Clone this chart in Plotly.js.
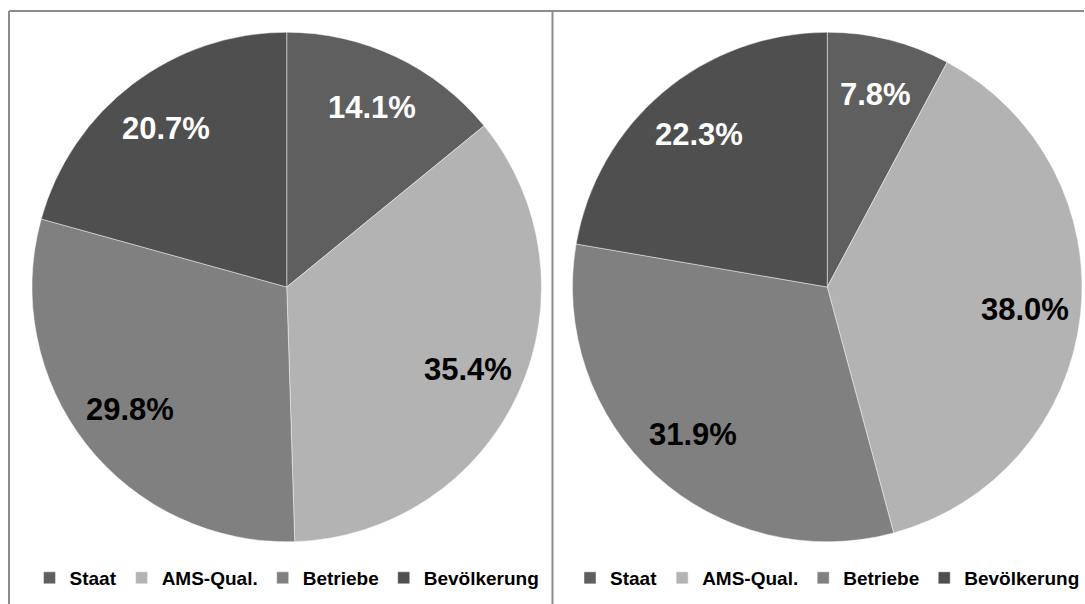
<!DOCTYPE html>
<html>
<head>
<meta charset="utf-8">
<script src="https://cdn.plot.ly/plotly-3.0.1.min.js"></script>
<style>html,body{margin:0;padding:0;background:#fff;}#chart{width:1085px;height:604px;}</style>
</head>
<body>
<div id="chart"></div>
<script>
const categories = ['Staat', 'AMS-Qual.', 'Betriebe', 'Bevölkerung'];
const valuesLeft = [14.1, 35.4, 29.8, 20.7];
const valuesRight = [7.8, 38.0, 31.9, 22.3];
const sliceColors = ['#5f5f5f', '#b3b3b3', '#808080', '#4f4f4f'];
const labelColors = ['#ffffff', '#000000', '#000000', '#ffffff'];

const W = 1085, H = 604;
const R = 255;
const centers = [[287, 287], [828, 287]];
const FONT = 'Liberation Sans, Arial, sans-serif';

function domainFor(c) {
  return {
    x: [(c[0] - R) / W, (c[0] + R) / W],
    y: [1 - (c[1] + R) / H, 1 - (c[1] - R) / H]
  };
}

// the second pie gets invisibly-distinct labels so its legend items are not merged with the first
function pieTrace(values, c, legendId, suffix) {
  return {
    type: 'pie',
    labels: categories.map(s => s + suffix),
    values: values,
    sort: false,
    direction: 'clockwise',
    rotation: 0,
    textinfo: 'none',
    hoverinfo: 'label+percent',
    marker: { colors: sliceColors, line: { color: 'rgba(255,255,255,0.45)', width: 1 } },
    domain: domainFor(c),
    legend: legendId,
    showlegend: true
  };
}

function labelAnnotations(values, c) {
  const total = values.reduce((a, b) => a + b, 0);
  let cum = 0;
  return values.map((v, i) => {
    const mid = (cum + v / 2) / total * 2 * Math.PI;
    cum += v;
    const rr = R * 0.78;
    const px = c[0] + rr * Math.sin(mid);
    const py = c[1] - rr * Math.cos(mid);
    return {
      xref: 'paper', yref: 'paper',
      x: px / W, y: 1 - py / H,
      xanchor: 'center', yanchor: 'middle',
      showarrow: false,
      text: v.toFixed(1) + '%',
      font: { family: FONT, size: 31, color: labelColors[i], weight: 'bold' }
    };
  });
}

const borderColor = '#8c8c8c';
const shapes = [
  { type: 'line', xref: 'paper', yref: 'paper', x0: 9 / W, x1: 1, y0: 1 - 11 / H, y1: 1 - 11 / H, line: { color: borderColor, width: 2 } },
  { type: 'line', xref: 'paper', yref: 'paper', x0: 9 / W, x1: 9 / W, y0: 0, y1: 1 - 11 / H, line: { color: borderColor, width: 2 } },
  { type: 'line', xref: 'paper', yref: 'paper', x0: 553 / W, x1: 553 / W, y0: 0, y1: 1 - 11 / H, line: { color: borderColor, width: 2 } }
];

function legendFor(c) {
  return {
    orientation: 'h',
    x: c[0] / W, xanchor: 'center',
    y: 1 - 578 / H, yanchor: 'middle',
    bgcolor: 'rgba(0,0,0,0)',
    traceorder: 'normal',
    itemclick: false,
    font: { family: FONT, size: 19, color: '#000000', weight: 'bold' }
  };
}

const data = [
  pieTrace(valuesLeft, centers[0], 'legend', ''),
  pieTrace(valuesRight, centers[1], 'legend2', '\u200b')
];

const layout = {
  width: W, height: H,
  margin: { l: 0, r: 0, t: 0, b: 0 },
  paper_bgcolor: '#ffffff',
  plot_bgcolor: '#ffffff',
  showlegend: true,
  legend: legendFor(centers[0]),
  legend2: legendFor(centers[1]),
  annotations: labelAnnotations(valuesLeft, centers[0]).concat(labelAnnotations(valuesRight, centers[1])),
  shapes: shapes
};

Plotly.newPlot('chart', data, layout, { displayModeBar: false });
</script>
</body>
</html>
